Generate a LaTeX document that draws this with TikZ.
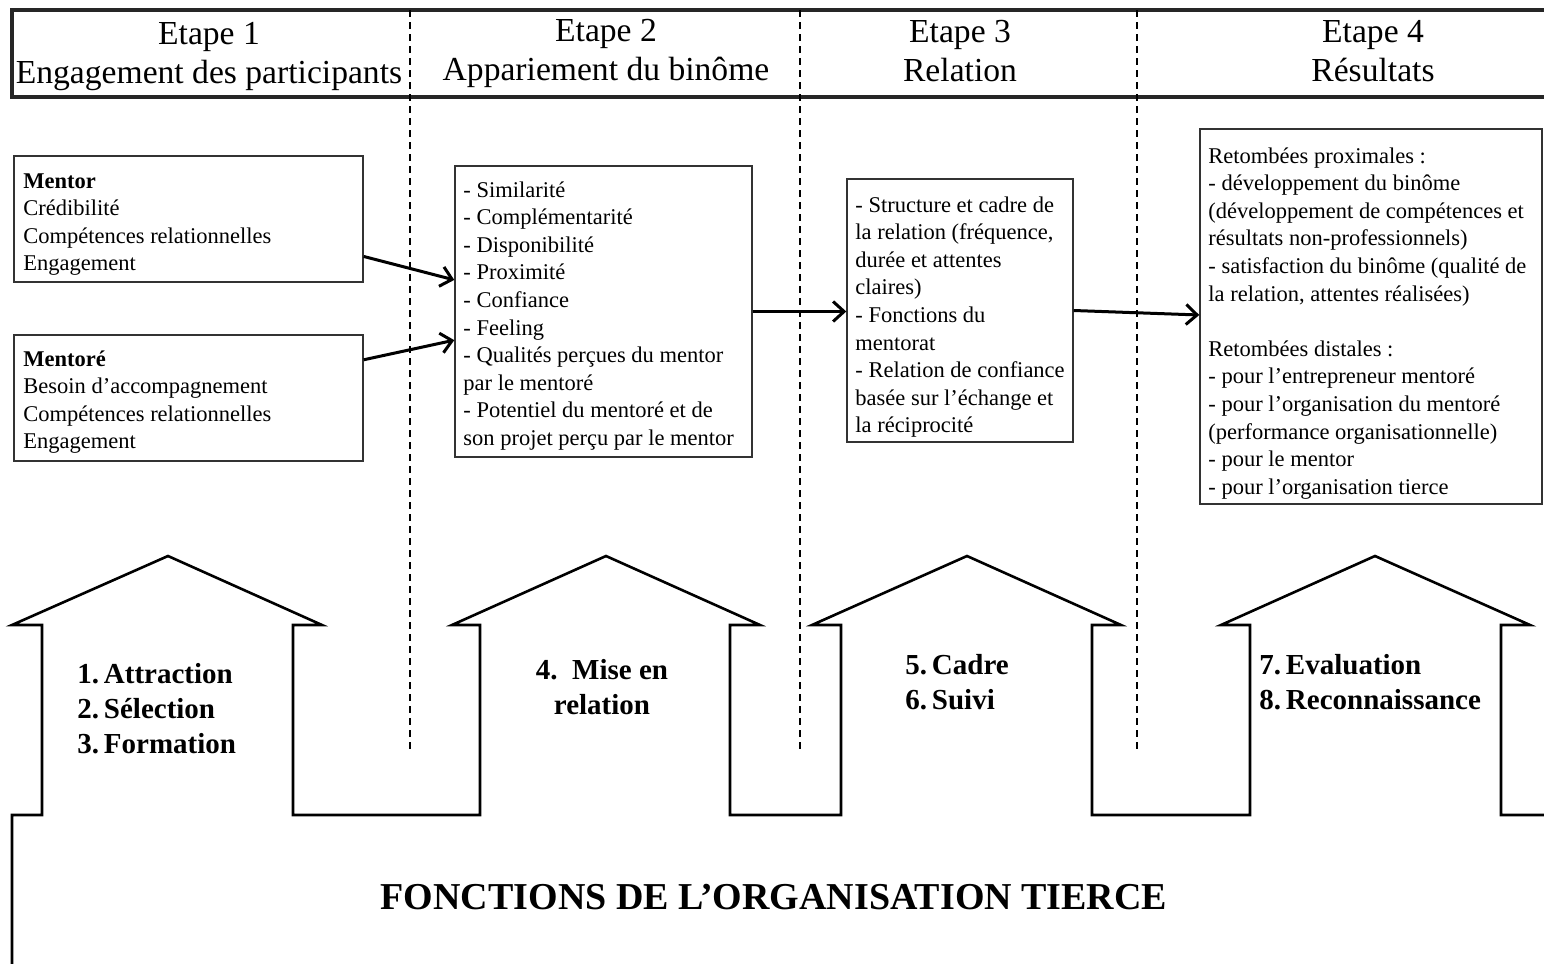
\documentclass[tikz,border=0pt]{standalone}
\usepackage{fontspec}
\setmainfont{Liberation Serif}
\usetikzlibrary{arrows.meta,fit,calc}
\begin{document}
\begin{tikzpicture}[x=0.5pt,y=-0.5pt,
  panel/.style={draw=black!80, line width=0.7pt, inner sep=0pt},
  body/.style={anchor=north west, inner sep=0pt, align=left,
    font=\fontsize{11.25}{13.8}\selectfont, text=black},
  head/.style={align=center, inner sep=0pt, font=\fontsize{16.8}{19.5}\selectfont},
  pillar/.style={inner sep=0pt, font=\bfseries\fontsize{14.5}{17.5}\selectfont},
  flow/.style={line width=1.5pt, -{Straight Barb[length=5.5pt,width=10pt]}},
  divider/.style={line width=1.2pt, dash pattern=on 3.5pt off 2.5pt},
  frame/.style={line width=1.6pt, draw=black!85},
  outline/.style={line width=1.3pt, line join=miter}
]
\useasboundingbox (0,0) rectangle (1544,964);
\clip (0,0) rectangle (1544,964);

% header band
\draw[frame] (1560,10) -- (12,10) -- (12,97) -- (1560,97);

% stage dividers
\foreach \xx in {410,800,1137}
  \draw[divider] (\xx,10) -- (\xx,750);

% stage titles
\node[head] (h1) at (209,57) {Etape 1\\Engagement des participants};
\node[head] (h2) at (606,53) {Etape 2\\Appariement du binôme};
\node[head] (h3) at (960,51) {Etape 3\\Relation};
\node[head] (h4) at (1373,51) {Etape 4\\Résultats};

% content boxes
\node[panel, fit={(14,156) (363,282)}] (mentor) {};
\node[panel, fit={(14,335) (363,461)}] (mentore) {};
\node[panel, fit={(455,166) (752,457)}] (match) {};
\node[panel, fit={(847,179) (1073,442)}] (rel) {};
\node[panel, fit={(1200,129) (1542,504)}] (res) {};

\node[body] (tmentor) at (23,173) {\textbf{Mentor}\\Crédibilité\\Compétences relationnelles\\Engagement};
\node[body] (tmentore) at (23,350) {\textbf{Mentoré}\\Besoin d’accompagnement\\Compétences relationnelles\\Engagement};
\node[body] (tmatch) at (463,181) {- Similarité\\- Complémentarité\\- Disponibilité\\- Proximité\\- Confiance\\- Feeling\\- Qualités perçues du mentor\\par le mentoré\\- Potentiel du mentoré et de\\son projet perçu par le mentor};
\node[body] (trel) at (855,196) {- Structure et cadre de\\la relation (fréquence,\\durée et attentes\\claires)\\- Fonctions du\\mentorat\\- Relation de confiance\\basée sur l’échange et\\la réciprocité};
\node[body] (tres) at (1208,147) {Retombées proximales :\\- développement du binôme\\(développement de compétences et\\résultats non-professionnels)\\- satisfaction du binôme (qualité de\\la relation, attentes réalisées)\\[13.8pt]Retombées distales :\\- pour l’entrepreneur mentoré\\- pour l’organisation du mentoré\\(performance organisationnelle)\\- pour le mentor\\- pour l’organisation tierce};

% flow between stages
\draw[flow] ($(mentor.north east)!0.794!(mentor.south east)$) -- ($(match.north west)!0.392!(match.south west)$);
\draw[flow] ($(mentore.north east)!0.2!(mentore.south east)$) -- ($(match.north west)!0.598!(match.south west)$);
\draw[flow] (match.east) -- (match.east -| rel.west);
\draw[flow] (rel.east) -- ($(res.north west)!0.496!(res.south west)$);

% supporting functions: base with four upward arrows
\draw[outline] (12,990) -- (12,815) -- (42,815) -- (42,625) -- (12,625) -- (168,556) -- (322,625)
  -- (293,625) -- (293,815) -- (480,815) -- (480,625) -- (452,625) -- (606,556) -- (760,625)
  -- (730,625) -- (730,815) -- (841,815) -- (841,625) -- (812,625) -- (967,556) -- (1121,625)
  -- (1092,625) -- (1092,815) -- (1250,815) -- (1250,625) -- (1221,625) -- (1375,556) -- (1530,625)
  -- (1501,625) -- (1501,815) -- (1560,815);

\node[pillar, anchor=west, align=left] (p1) at (77,709) {1.\,Attraction\\2.\,Sélection\\3.\,Formation};
\node[pillar, align=center] (p2) at (602,687) {4.~~Mise en\\relation};
\node[pillar, anchor=west, align=left] (p3) at (905,682) {5.\,Cadre\\6.\,Suivi};
\node[pillar, anchor=west, align=left] (p4) at (1259,682) {7.\,Evaluation\\8.\,Reconnaissance};

\node[inner sep=0pt, font=\bfseries\fontsize{19}{22}\selectfont] (org) at (774,897) {FONCTIONS DE L’ORGANISATION TIERCE};
\end{tikzpicture}
\end{document}
